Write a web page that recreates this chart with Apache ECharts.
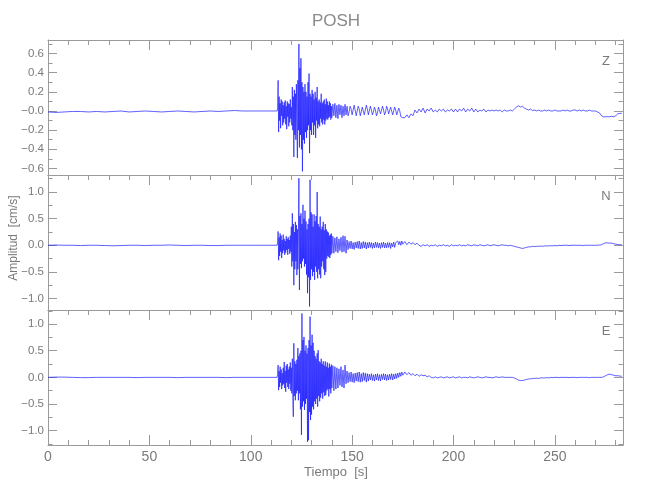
<!DOCTYPE html>
<html><head><meta charset="utf-8">
<script src="https://cdn.jsdelivr.net/npm/echarts@6/dist/echarts.min.js"></script>
<style>html,body{margin:0;padding:0;background:#fff}#c{width:650px;height:500px}</style>
</head><body><div id="c"></div>
<script>
// ---------------- data ----------------
const chartTitle = 'POSH';
const components = ['Z', 'N', 'E'];
const yAxisTitle = 'Amplitud  [cm/s]';
const xAxisTitle = 'Tiempo  [s]';
// sampling of each record segment (start time, step in s)
const preStart = 0, preStep = 4;
const denseStart = 113, denseStep = 0.25;
const midStart = 140.5, midStep = 0.5;
const codaStart = 176, codaStep = 1;
const timeEnd = 283.6;

const zPre = [-0.01,-0.015,-0.01,-0.005,-0.005,-0.01,-0.005,-0.01,-0.005,0.00,-0.01,-0.005,0.00,-0.005,-0.01,-0.005,0.00,-0.005,-0.01,-0.005,0.00,-0.005,0.00,0.005,0.00,0.00,0.00,0.00,0.00];
const zDense = [
 0.00,0.03,0.32,-0.22,0.15,-0.10,0.08,-0.18,
 0.12,-0.05,0.10,-0.15,0.06,-0.12,0.09,-0.08,
 0.11,-0.14,0.05,-0.19,0.10,-0.06,0.08,-0.16,
 0.07,-0.12,0.12,-0.08,0.04,-0.15,0.25,-0.20,
 0.15,-0.48,0.22,-0.25,0.18,-0.30,0.28,-0.15,
 -0.49,0.32,-0.20,0.70,-0.38,0.45,-0.25,0.55,
 -0.40,0.30,-0.63,0.25,-0.30,0.20,-0.34,0.28,
 -0.22,0.20,-0.28,0.15,-0.20,0.30,-0.15,0.39,
 -0.44,0.18,-0.20,0.15,-0.25,0.22,-0.12,0.18,
 -0.25,0.12,-0.15,0.20,-0.28,0.14,-0.10,0.25,
 -0.18,0.10,-0.14,0.12,-0.16,0.09,-0.08,0.18,
 -0.12,0.08,-0.14,0.10,-0.09,0.12,-0.14,0.07,
 -0.10,0.13,-0.08,0.10,-0.09,0.06,-0.07,0.10,
 -0.06,0.08,-0.09,0.05,-0.07];
const zMid = [
 0.07,-0.05,0.08,-0.07,0.06,-0.08,0.07,-0.04,0.06,-0.07,
 0.05,-0.05,0.07,-0.04,0.05,-0.05,-0.01,0.05,0.02,-0.04,
 -0.02,0.06,0.01,-0.05,0.00,0.05,0.02,-0.05,-0.01,0.04,
 0.02,-0.04,-0.02,0.06,0.02,-0.04,-0.02,0.05,0.01,-0.04,
 -0.01,0.04,0.01,-0.05,-0.02,0.04,0.02,-0.03,-0.02,0.05,
 0.01,-0.04,-0.01,0.05,0.02,-0.03,-0.01,0.04,0.02,-0.04,
 -0.02,0.04,0.01,-0.04,-0.02,0.03,0.00,-0.06,-0.04,-0.07];
const zCoda = [
 -0.07,-0.04,-0.07,-0.03,-0.05,
 0.01,-0.02,0.02,-0.01,0.03,-0.02,0.02,0.00,0.03,-0.01,
 0.01,-0.01,0.02,0.00,0.02,-0.01,0.01,0.00,0.02,-0.01,
 0.02,-0.01,0.02,0.00,0.03,-0.01,0.02,0.00,0.03,-0.01,
 0.02,-0.01,0.01,0.00,0.02,-0.01,0.01,0.00,0.01,0.00,
 0.01,0.00,0.01,-0.01,0.01,0.00,0.00,0.01,0.00,
 0.02,0.04,0.055,0.04,0.05,0.03,0.02,
 0.01,0.02,0.005,0.01,
 0.00,0.01,0.00,0.00,0.01,0.00,0.01,0.00,0.00,0.01,0.00,0.00,0.00,0.01,0.00,0.01,0.00,0.00,0.01,0.01,0.00,0.01,0.00,0.01,0.00,0.00,0.01,0.00,0.00,0.00,-0.01,
 -0.02,-0.05,-0.06,-0.06,-0.06,-0.06,-0.055,-0.06,-0.05,-0.03,-0.025,-0.025];

const nPre = [0.00,0.005,0.00,0.00,-0.005,0.00,0.00,-0.005,-0.01,-0.005,0.00,0.00,-0.005,0.00,0.00,0.005,0.00,-0.005,0.00,0.00,-0.005,-0.005,0.00,0.00,0.00,0.00,0.00,0.00,0.00];
const nDense = [
 0.00,0.04,0.26,-0.28,0.15,-0.20,0.22,-0.12,
 0.18,-0.24,0.10,-0.15,0.20,-0.10,0.12,-0.18,
 0.08,-0.14,0.17,-0.09,0.12,-0.18,0.15,-0.07,
 0.10,-0.16,0.18,-0.12,0.35,-0.40,0.60,-0.30,
 0.40,-0.75,0.25,-0.45,0.44,-0.30,0.38,-0.56,
 0.30,-0.45,0.20,1.26,-0.84,0.55,-0.35,0.60,
 -0.43,0.40,-0.30,0.76,-0.25,0.50,-0.40,0.65,
 -0.35,0.45,-0.55,0.30,-0.90,0.40,-0.60,0.50,
 -1.15,1.23,-0.65,0.62,-0.45,0.58,-0.58,0.35,
 -0.50,0.58,-0.65,0.45,-0.40,0.55,-0.50,1.00,
 -0.62,0.40,-0.45,0.35,-0.55,0.54,-0.62,0.30,
 -0.40,0.35,-0.30,0.44,-0.45,0.28,-0.56,0.40,
 -0.50,0.30,-0.25,0.26,-0.20,0.24,-0.22,0.18,
 -0.24,0.20,-0.18,0.22,-0.15];
const nMid = [
 0.17,-0.15,0.14,-0.12,0.16,-0.14,0.12,-0.10,0.15,-0.13,
 0.18,-0.12,0.17,-0.15,0.10,-0.08,0.07,-0.06,0.08,-0.07,
 0.05,-0.08,0.06,-0.05,0.07,-0.06,0.08,-0.07,0.05,-0.06,
 0.07,-0.05,0.06,-0.07,0.05,-0.05,0.06,-0.04,0.05,-0.06,
 0.04,-0.05,0.06,-0.04,0.05,-0.05,0.04,-0.06,0.05,-0.04,
 0.06,-0.05,0.04,-0.05,0.05,-0.04,0.05,-0.06,0.04,-0.03,
 0.06,-0.04,0.05,0.02,0.08,0.01,0.07,0.00,0.08,0.02];
const nCoda = [
 0.07,0.01,0.06,0.02,0.05,0.01,0.04,0.00,
 -0.02,0.01,-0.01,0.01,-0.02,0.00,-0.01,0.01,-0.02,0.00,
 -0.01,0.01,-0.01,0.00,-0.02,0.01,-0.01,0.00,-0.01,0.01,
 -0.01,0.00,-0.01,0.01,0.00,-0.01,0.01,0.00,-0.01,0.01,
 0.00,-0.01,0.00,0.01,-0.01,0.00,0.01,0.00,-0.01,0.00,
 0.01,0.00,0.00,-0.01,0.00,-0.01,
 -0.02,-0.03,-0.04,-0.05,-0.06,-0.05,-0.04,-0.03,
 -0.03,-0.02,-0.025,-0.02,-0.02,-0.015,-0.02,-0.01,-0.015,-0.01,-0.01,-0.01,-0.005,-0.01,0.00,-0.005,0.00,0.00,0.00,-0.005,0.00,0.00,0.00,0.00,0.00,0.00,-0.005,0.00,0.00,0.00,0.00,0.00,0.00,0.00,0.005,
 0.01,0.03,0.045,0.045,0.04,0.04,0.03,0.02,0.015,0.01,0.01];

const ePre = [0.00,0.005,0.005,0.00,-0.005,-0.005,0.00,0.00,0.00,0.00,0.00,-0.005,0.00,0.00,0.00,0.00,-0.005,0.00,0.00,0.00,0.00,0.00,-0.005,0.00,0.00,0.00,0.00,0.00,0.00];
const eDense = [
 0.00,0.05,0.23,-0.24,0.12,-0.18,0.20,-0.10,
 0.15,-0.22,0.08,-0.15,0.18,-0.12,0.29,-0.20,
 0.12,-0.27,0.22,-0.10,0.25,-0.18,0.15,-0.22,
 0.20,-0.12,0.28,-0.25,0.18,-0.30,0.35,-0.40,
 -0.74,0.64,-0.35,0.30,-0.43,0.25,-0.30,0.33,
 -0.25,0.55,-0.43,0.40,-0.30,0.45,-0.60,0.50,
 -1.08,1.20,-0.55,0.70,-0.45,0.76,-0.61,0.50,
 -0.50,0.60,-0.40,0.45,-1.21,0.55,-1.18,0.70,
 -0.65,1.14,-0.80,0.60,-0.70,0.80,-0.55,0.65,
 -0.60,0.50,-0.45,0.40,-0.50,0.35,-0.40,0.45,
 -0.55,0.51,-0.35,0.30,-0.45,0.28,-0.38,0.35,
 -0.30,0.25,-0.40,0.30,-0.28,0.22,-0.35,0.30,
 -0.33,0.20,-0.25,0.28,-0.22,0.18,-0.36,0.26,
 -0.22,0.20,-0.30,0.24,-0.20];
const eMid = [
 0.22,-0.25,0.20,-0.22,0.18,-0.20,0.16,-0.15,0.20,-0.18,
 0.14,-0.20,0.23,-0.12,0.12,-0.10,0.09,-0.08,0.10,-0.09,
 0.07,-0.10,0.08,-0.07,0.09,-0.08,0.10,-0.09,0.07,-0.08,
 0.09,-0.06,0.08,-0.09,0.07,-0.07,0.06,-0.05,0.07,-0.06,
 0.05,-0.07,0.06,-0.05,0.07,-0.06,0.05,-0.07,0.06,-0.04,
 0.07,-0.05,0.06,-0.06,0.05,-0.05,0.06,-0.04,0.07,-0.05,
 0.06,-0.03,0.07,-0.02,0.08,0.00,0.09,0.02,0.10,0.04];
const eCoda = [
 0.10,0.05,0.09,0.04,0.07,0.03,0.06,0.02,0.05,0.03,0.04,0.01,0.03,
 0.00,-0.01,0.01,-0.01,0.00,0.01,-0.01,0.00,0.01,-0.01,
 0.00,0.01,-0.01,0.00,0.01,-0.01,0.00,0.00,-0.01,0.01,
 0.00,-0.01,0.00,0.01,0.00,-0.01,0.00,0.01,0.00,0.00,
 -0.01,0.00,0.01,0.00,0.00,0.01,0.00,0.00,0.00,0.00,
 0.00,
 -0.01,-0.03,-0.05,-0.06,-0.06,-0.05,-0.04,-0.03,
 -0.03,-0.02,-0.02,-0.015,-0.02,-0.01,-0.01,-0.01,-0.005,-0.01,0.00,-0.005,0.00,0.00,-0.005,0.00,0.00,0.00,0.00,-0.005,0.00,0.00,0.00,-0.005,0.00,0.00,0.00,0.00,0.00,-0.005,0.00,0.00,0.00,0.00,0.00,0.00,0.01,
 0.03,0.05,0.06,0.05,0.04,0.03,0.03,0.025,0.02];

// axis ranges and ticks
const yRanges = [[-0.668, 0.741], [-1.216, 1.32], [-1.27, 1.265]];
const yMajorTicks = [[-0.6,-0.4,-0.2,0,0.2,0.4,0.6], [-1,-0.5,0,0.5,1], [-1,-0.5,0,0.5,1]];
const yMinorTicks = [[-0.5,-0.3,-0.1,0.1,0.3,0.5,0.7], [-0.75,-0.25,0.25,0.75,1.25], [-1.25,-0.75,-0.25,0.25,0.75,1.25]];
const zeroLabels = ['\u22120.0', '0.0', '0.0'];
const xMajorTicks = [0, 50, 100, 150, 200, 250];
const xMinorTicks = [10,20,30,40,60,70,80,90,110,120,130,140,160,170,180,190,210,220,230,240,260,270,280];

// ---------------- build ----------------
function segment(t0, dt, vals) { return vals.map((v, i) => [t0 + i * dt, v]); }
function record(pre, dense, mid, coda) {
  return segment(preStart, preStep, pre).concat(
    segment(denseStart, denseStep, dense),
    segment(midStart, midStep, mid),
    segment(codaStart, codaStep, coda));
}
const records = [record(zPre, zDense, zMid, zCoda), record(nPre, nDense, nMid, nCoda), record(ePre, eDense, eMid, eCoda)];

const AX = '#9a9a9a', TX = '#7a7a7a';
const FONT = "'Liberation Sans Narrow', 'Liberation Sans', 'DejaVu Sans Condensed', sans-serif";
const L = 48, W = 575, T0 = 40, H = 135;
const grids = [], xAxes = [], yAxes = [], series = [], graphics = [];
const fmtY = i => v => Math.abs(v) < 1e-9 ? zeroLabels[i] : (v < 0 ? '\u2212' + Math.abs(v).toFixed(1) : v.toFixed(1));
const line = show => ({show: show, onZero: false, lineStyle: {color: AX, width: 1}});

components.forEach((c, i) => {
  grids.push({left: L, width: W, top: T0 + H * i, height: H});
  const last = i === components.length - 1;
  const xb = {type: 'value', gridIndex: i, min: 0, max: timeEnd, splitLine: {show: false}};
  xAxes.push(Object.assign({}, xb, {position: 'top', axisLine: line(true),
    axisTick: {show: true, inside: true, length: 10, customValues: xMajorTicks, lineStyle: {color: AX}}, axisLabel: {show: false}}));
  xAxes.push(Object.assign({}, xb, {position: 'top', axisLine: line(false),
    axisTick: {show: true, inside: true, length: 5, customValues: xMinorTicks, lineStyle: {color: AX}}, axisLabel: {show: false}}));
  xAxes.push(Object.assign({}, xb, {position: 'bottom', axisLine: line(true),
    axisTick: {show: last, inside: true, length: 10, customValues: xMajorTicks, lineStyle: {color: AX}},
    axisLabel: {show: last, customValues: xMajorTicks, margin: 5, color: TX, fontSize: 14, fontFamily: FONT}}));
  xAxes.push(Object.assign({}, xb, {position: 'bottom', axisLine: line(false),
    axisTick: {show: last, inside: true, length: 5, customValues: xMinorTicks, lineStyle: {color: AX}}, axisLabel: {show: false}}));

  const yb = {type: 'value', gridIndex: i, min: yRanges[i][0], max: yRanges[i][1], splitLine: {show: false}};
  yAxes.push(Object.assign({}, yb, {position: 'left', axisLine: line(true),
    axisTick: {show: true, inside: true, length: 9, customValues: yMajorTicks[i], lineStyle: {color: AX}},
    axisLabel: {show: true, customValues: yMajorTicks[i], margin: 4, color: TX, fontSize: 11.5, fontFamily: FONT, formatter: fmtY(i)}}));
  yAxes.push(Object.assign({}, yb, {position: 'left', axisLine: line(false),
    axisTick: {show: true, inside: true, length: 4.5, customValues: yMinorTicks[i], lineStyle: {color: AX}}, axisLabel: {show: false}}));
  yAxes.push(Object.assign({}, yb, {position: 'right', axisLine: line(true),
    axisTick: {show: true, inside: true, length: 9, customValues: yMajorTicks[i], lineStyle: {color: AX}}, axisLabel: {show: false}}));
  yAxes.push(Object.assign({}, yb, {position: 'right', axisLine: line(false),
    axisTick: {show: true, inside: true, length: 4.5, customValues: yMinorTicks[i], lineStyle: {color: AX}}, axisLabel: {show: false}}));

  series.push({type: 'line', name: c, xAxisIndex: 4 * i, yAxisIndex: 4 * i, data: records[i],
    showSymbol: false, symbol: 'none', sampling: null, clip: true,
    lineStyle: {color: '#1414ff', width: 0.8, opacity: 0.85}});
});

const labelPos = [[606, 61], [606, 196], [606, 331]];
components.forEach((c, i) => graphics.push({type: 'text', x: labelPos[i][0], y: labelPos[i][1],
  style: {text: c, fill: TX, font: '13px ' + FONT, textAlign: 'center', textVerticalAlign: 'middle'}}));
graphics.push({type: 'text', x: 336, y: 21, style: {text: chartTitle, fill: '#8a8a8a', font: '17px ' + FONT, textAlign: 'center', textVerticalAlign: 'middle'}});
graphics.push({type: 'text', x: 336, y: 472, style: {text: xAxisTitle, fill: TX, font: '13px ' + FONT, textAlign: 'center', textVerticalAlign: 'middle'}});
graphics.push({type: 'text', x: 14, y: 238, rotation: Math.PI / 2, style: {text: yAxisTitle, fill: TX, font: '12px ' + FONT, textAlign: 'center', textVerticalAlign: 'middle'}});

const chart = echarts.init(document.getElementById('c'), null, {renderer: 'canvas'});
chart.setOption({
  animation: false, backgroundColor: '#fff',
  grid: grids, xAxis: xAxes, yAxis: yAxes, series: series, graphic: graphics
});
</script></body></html>
